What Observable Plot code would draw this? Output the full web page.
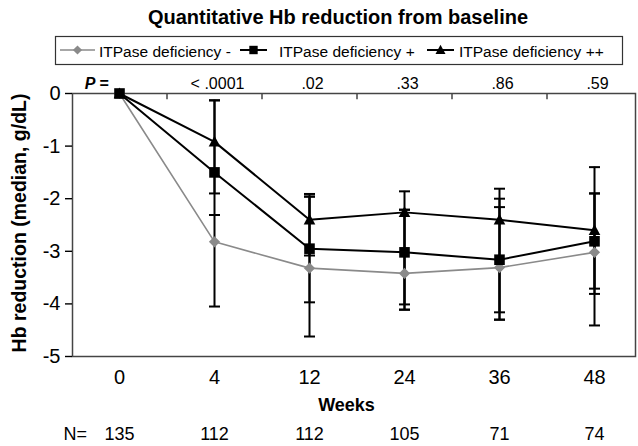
<!DOCTYPE html>
<html><head><meta charset="utf-8">
<script src="https://cdn.jsdelivr.net/npm/d3@7"></script>
<script src="https://cdn.jsdelivr.net/npm/@observablehq/plot@0.6"></script>
<style>
body{margin:0;background:#fff;font-family:"Liberation Sans",Arial,sans-serif;}
#wrap{position:relative;width:638px;height:446px;overflow:hidden;background:#fff;}
#head{position:absolute;left:0;top:0;}
#chart{position:absolute;left:0;top:66px;}
</style></head><body><div id="wrap"><svg id="head" width="638" height="66"></svg><div id="chart"></div></div>
<script>
// ---- data ----
const title = "Quantitative Hb reduction from baseline";
const weeks = ["0","4","12","24","36","48"];
const nCounts = [135,112,112,105,71,74];
const pValues = ["< .0001",".02",".33",".86",".59"]; // weeks 4..48
const seriesNames = ["ITPase deficiency -","ITPase deficiency +","ITPase deficiency ++"];
const medianMinus    = [0,-2.82,-3.32,-3.42,-3.31,-3.02];
const medianPlus     = [0,-1.50,-2.95,-3.02,-3.16,-2.81];
const medianPlusPlus = [0,-0.92,-2.40,-2.26,-2.40,-2.60];
const lowMinus     = [null,-4.05,-4.62,-4.11,-4.30,-4.41];
const highMinus    = [null,-2.31,-1.96,-2.21,-2.16,-1.90];
const lowPlus      = [null,-2.31,-3.97,-4.11,-4.30,-3.81];
const highPlus     = [null,-0.13,-1.96,-2.21,-2.00,-1.90];
const lowPlusPlus  = [null,-1.90,-3.08,-4.01,-4.16,-3.71];
const highPlusPlus = [null,-0.13,-1.91,-1.86,-1.81,-1.40];
const yTicks = [0,-1,-2,-3,-4,-5];
const yLabel = "Hb reduction (median, g/dL)";
const xLabel = "Weeks";

// ---- symbols ----
const rad = s => Math.sqrt(s / Math.PI);
const diamondSym = {draw(c, s){const r = rad(s); c.moveTo(0,-r); c.lineTo(r,0); c.lineTo(0,r); c.lineTo(-r,0); c.closePath();}};
const squareSym = {draw(c, s){const r = rad(s); c.rect(-r,-r,2*r,2*r);}};
const triangleSym = {draw(c, s){const r = rad(s); c.moveTo(0,-r*1.05); c.lineTo(r,r*0.8); c.lineTo(-r,r*0.8); c.closePath();}};
const capSym = {draw(c, s){const r = rad(s); c.moveTo(-r,0); c.lineTo(r,0);}};

const gray = "#8a8a8a";
const sMinus = {name: seriesNames[0], med: medianMinus, low: lowMinus, high: highMinus, color: gray, width: 1.6, sym: diamondSym, r: 5.6, lr: 4.6};
const sPlus = {name: seriesNames[1], med: medianPlus, low: lowPlus, high: highPlus, color: "#000", width: 2, sym: squareSym, r: 5.3, lr: 4.2};
const sPlusPlus = {name: seriesNames[2], med: medianPlusPlus, low: lowPlusPlus, high: highPlusPlus, color: "#000", width: 2, sym: triangleSym, r: 5.8, lr: 5};
const drawOrder = [sMinus, sPlusPlus, sPlus];
const legendOrder = [sMinus, sPlus, sPlusPlus];

const errRows = drawOrder.flatMap(s => s.med.map((v, i) => ({i, low: s.low[i], high: s.high[i]})).filter(d => d.low != null));
const capRows = errRows.flatMap(d => [{i: d.i, v: d.low}, {i: d.i, v: d.high}]);
const boundaries = weeks.slice(1).map((_, i) => i + 0.5);

const marks = [
  Plot.frame({stroke: "#444", strokeWidth: 1.5}),
  Plot.ruleX(boundaries, {x: d => d, y1: yTicks[0], y2: -0.12, stroke: "#444", strokeWidth: 1.5}),
  Plot.axisX({anchor: "bottom", ticks: weeks.map((_, i) => i), tickFormat: i => weeks[i], tickSize: 0, tickPadding: 13, fontSize: 20, label: null}),
  Plot.axisY({ticks: yTicks, tickFormat: d => String(d), tickSize: 7, tickPadding: 5, fontSize: 20, label: null, strokeWidth: 1.4}),
  Plot.text([yLabel], {frameAnchor: "left", textAnchor: "middle", rotate: -90, dx: -52.5, dy: -2, fontSize: 19.5, fontWeight: "bold"}),
  Plot.text([xLabel], {frameAnchor: "bottom", dx: -7.5, dy: 54, lineAnchor: "bottom", fontSize: 18, fontWeight: "bold"}),
  Plot.text(["N="], {frameAnchor: "bottom-left", textAnchor: "start", dx: -9, dy: 83, lineAnchor: "bottom", fontSize: 18}),
  Plot.text(nCounts, {x: (d, i) => i, frameAnchor: "bottom", dy: 83, lineAnchor: "bottom", fontSize: 18}),
  Plot.text(["P ="], {x: () => 0, frameAnchor: "top", textAnchor: "end", dx: -11, dy: -4.5, lineAnchor: "bottom", fontSize: 16, fontStyle: "italic", fontWeight: "bold"}),
  Plot.text(pValues, {x: (d, i) => i + 1, frameAnchor: "top", dx: 3, dy: -4.5, lineAnchor: "bottom", fontSize: 16}),
  Plot.ruleX(errRows, {x: "i", y1: "low", y2: "high", stroke: "#000", strokeWidth: 2}),
  Plot.dot(capRows, {x: "i", y: "v", symbol: capSym, r: 5.5, stroke: "#000", strokeWidth: 2, fill: "none"})
];
for (const s of drawOrder) {
  const rows = s.med.map((v, i) => ({i, v}));
  marks.push(Plot.line(rows, {x: "i", y: "v", stroke: s.color, strokeWidth: s.width}));
}
for (const s of drawOrder) {
  const rows = s.med.map((v, i) => ({i, v}));
  marks.push(Plot.dot(rows, {x: "i", y: "v", symbol: s.sym, r: s.r, fill: s.color, stroke: "none"}));
}

const chart = Plot.plot({
  width: 638, height: 380,
  marginTop: 27, marginBottom: 90, marginLeft: 72, marginRight: 3,
  style: {fontFamily: '"Liberation Sans", Arial, sans-serif', color: "#000", background: "transparent"},
  x: {type: "linear", domain: [-0.5, weeks.length - 0.5], range: [71.5, 641.5]},
  y: {domain: [-5, 0]},
  marks
});
document.getElementById("chart").appendChild(chart);

// ---- title & legend ----
const head = d3.select("#head").style("font-family", '"Liberation Sans", Arial, sans-serif');
head.append("text").attr("x", 338).attr("y", 24).attr("text-anchor", "middle")
  .attr("font-size", 20).attr("font-weight", "bold").text(title);
head.append("rect").attr("x", 55.5).attr("y", 36.5).attr("width", 567).attr("height", 28)
  .attr("fill", "none").attr("stroke", "#333").attr("stroke-width", 1.2);
const legendSlots = [{x0: 60, x1: 95, tx: 99}, {x0: 240, x1: 267, tx: 279}, {x0: 427, x1: 454, tx: 459}];
legendOrder.forEach((s, k) => {
  const it = legendSlots[k];
  head.append("line").attr("x1", it.x0).attr("x2", it.x1).attr("y1", 50).attr("y2", 50)
    .attr("stroke", s.color).attr("stroke-width", s.width);
  head.append("path").attr("transform", `translate(${(it.x0 + it.x1) / 2},50)`)
    .attr("d", d3.symbol(s.sym, Math.PI * s.lr * s.lr)()).attr("fill", s.color);
  head.append("text").attr("x", it.tx).attr("y", 57).attr("font-size", 15.5).text(s.name);
});
</script></body></html>
